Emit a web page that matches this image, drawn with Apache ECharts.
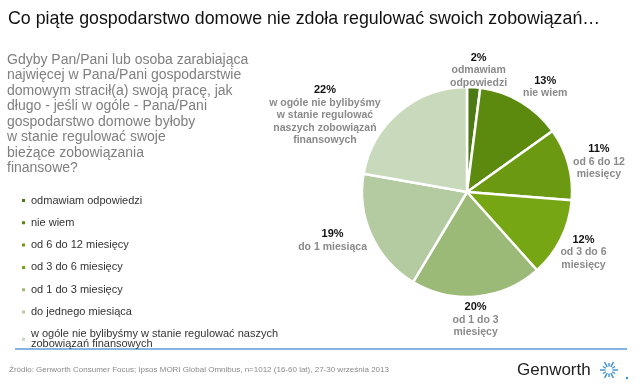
<!DOCTYPE html>
<html><head><meta charset="utf-8">
<script src="https://cdn.jsdelivr.net/npm/echarts@6/dist/echarts.min.js"></script>
<style>html,body{margin:0;padding:0;background:#fff}#c{width:640px;height:384px}</style>
</head><body><div id="c"></div>
<script>
const legendNames = ['odmawiam odpowiedzi','nie wiem','od 6 do 12 miesięcy','od 3 do 6 miesięcy','od 1 do 3 miesięcy','do jednego miesiąca','w ogóle nie bylibyśmy w stanie regulować naszych\nzobowiązań finansowych'];
const labelNames = ['odmawiam\nodpowiedzi','nie wiem','od 6 do 12\nmiesięcy','od 3 do 6\nmiesięcy','od 1 do 3\nmiesięcy','do 1 miesiąca','w ogóle nie bylibyśmy\nw stanie regulować\nnaszych zobowiązań\nfinansowych'];
const values = [2, 13, 11, 12, 20, 19, 22];
const colors = ['#4d7a14','#5b8a0f','#6b9a12','#77a614','#9cba77','#b4caa0','#c9d9bb'];
const titleText = 'Co piąte gospodarstwo domowe nie zdoła regulować swoich zobowiązań…';
const questionLines = ['Gdyby Pan/Pani lub osoba zarabiająca','najwięcej w Pana/Pani gospodarstwie','domowym stracił(a) swoją pracę, jak','długo - jeśli w ogóle - Pana/Pani','gospodarstwo domowe byłoby','w stanie regulować swoje','bieżące zobowiązania','finansowe?'];
const sourceText = 'Źródło: Genworth Consumer Focus; Ipsos MORI Global Omnibus, n=1012 (16-60 lat), 27-30 września 2013';

const chart = echarts.init(document.getElementById('c'));
const FONT = '"Liberation Sans", Arial, sans-serif';

// label nudges (style), per slice
const labelNudge = [[-29,-11],[-6,-10],[-6,-1],[-11,11],[-30,17],[6,2],[-10,8]];

const star = [];
for (let i = 0; i < 12; i++) {
  const a = i * Math.PI / 6;
  const r1 = 3.5, r2 = (i % 2 === 0) ? 9 : 7;
  star.push({type:'line', shape:{x1:609+r1*Math.cos(a), y1:370+r1*Math.sin(a), x2:609+r2*Math.cos(a), y2:370+r2*Math.sin(a)}, style:{stroke:'#3a8fd0', lineWidth:1.4}, silent:true});
}

const data = values.map((v, i) => ({value: v, name: legendNames[i], labelName: labelNames[i], itemStyle:{color: colors[i]}}));

chart.setOption({
  animation: false,
  color: colors,
  title: [
    {text: titleText, left: 3, top: 5, textStyle:{fontFamily: FONT, fontSize: 17.8, fontWeight: 'normal', color: '#111'}},
    {text: questionLines.join('\n'), left: 2, top: 47, textStyle:{fontFamily: FONT, fontSize: 14, fontWeight: 'normal', color: '#7f7f7f', lineHeight: 15.5}},
    {text: sourceText, left: 4, top: 361, textStyle:{fontFamily: FONT, fontSize: 8, fontWeight: 'normal', color: '#8a8a8a'}}
  ],
  legend: {
    orient: 'vertical', left: 20, top: 195, padding: 0, icon: 'rect', itemWidth: 5, itemHeight: 5, itemGap: 11.3,
    textStyle: {fontFamily: FONT, fontSize: 11, color: '#333', lineHeight: 10},
    selectedMode: false,
    data: legendNames
  },
  graphic: [
    {type:'line', shape:{x1:15, y1:349, x2:627, y2:349}, style:{stroke:'#5b9bd5', lineWidth:1.5}, silent:true},
    {type:'text', left: 517, top: 362, style:{text:'Genworth', font: '17px ' + FONT, fill:'#222'}, silent:true},
    ...star,
    {type:'circle', shape:{cx:627, cy:378, r:1.2}, style:{fill:'#3a8fd0'}, silent:true}
  ],
  series: [{
    type: 'pie',
    center: [467, 192],
    radius: 105,
    startAngle: 90,
    clockwise: true,
    avoidLabelOverlap: false,
    itemStyle: {borderColor: '#fff', borderWidth: 2.5},
    label: {
      show: true, position: 'outside',
      formatter: p => '{p|' + p.value + '%}\n{n|' + p.data.labelName + '}',
      rich: {
        p: {fontFamily: FONT, fontSize: 11, fontWeight: 'bold', color: '#111', align: 'center', lineHeight: 13},
        n: {fontFamily: FONT, fontSize: 10.5, fontWeight: 'bold', color: '#8a8a8a', align: 'center', lineHeight: 12.5}
      }
    },
    labelLine: {show: false, length: 6, length2: 0},
    labelLayout: p => ({dx: labelNudge[p.dataIndex][0], dy: labelNudge[p.dataIndex][1], hideOverlap: false}),
    data: data
  }]
});
</script></body></html>
